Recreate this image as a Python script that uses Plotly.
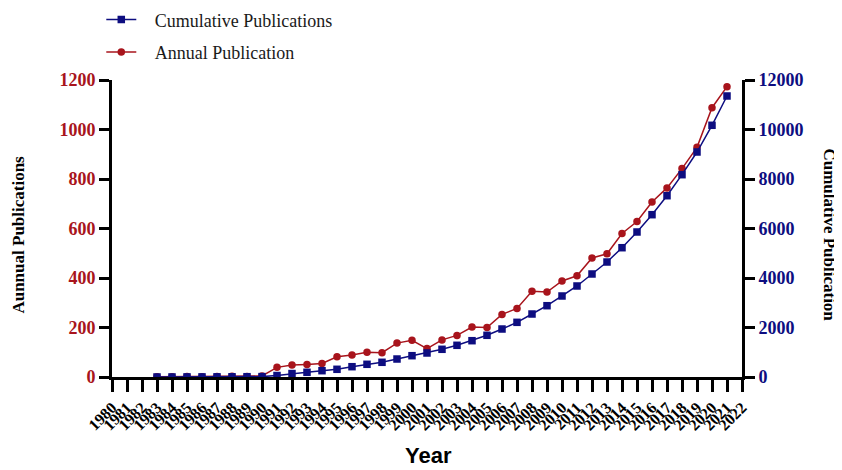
import plotly.graph_objects as go

years = list(range(1983, 2022))
annual = [1, 1, 2, 1, 2, 3, 2, 4,
          39, 48, 51, 55, 82, 89, 100, 98, 137, 148, 115, 150, 168, 202, 200,
          253, 277, 346, 343, 388, 409, 481, 498, 580, 628, 707, 764, 842, 928,
          1088, 1173]
cumulative = [1, 2, 4, 5, 7, 10, 12, 16,
              60, 140, 190, 255, 311, 416, 513, 594, 727, 861, 970, 1119, 1281,
              1467, 1685, 1939, 2209, 2545, 2881, 3273, 3677, 4162, 4646, 5224,
              5859, 6558, 7325, 8174, 9091, 10170, 11354]
tick_years = list(range(1980, 2023))
tick_labels = [str(y) for y in tick_years]
left_ticks = [0, 200, 400, 600, 800, 1000, 1200]
right_ticks = [0, 2000, 4000, 6000, 8000, 10000, 12000]
right_labels = [str(v) for v in right_ticks]

RED = "#A8141C"
BLUE = "#0D0D80"
SERIF = "Liberation Serif"
NB = "\u00a0"

fig = go.Figure()
fig.add_trace(go.Scatter(
    x=years, y=cumulative, name=NB * 3 + "Cumulative Publications", yaxis="y2",
    mode="lines+markers", line=dict(color=BLUE, width=1.5),
    marker=dict(symbol="square", size=7.5, color=BLUE),
    legendgroup="a"))
fig.add_trace(go.Scatter(
    x=years, y=annual, name=NB * 3 + "Annual Publication", yaxis="y",
    mode="lines+markers", line=dict(color=RED, width=1.5),
    marker=dict(symbol="circle", size=7.5, color=RED),
    legendgroup="b"))

fig.update_layout(
    width=834, height=462,
    margin=dict(l=104, r=100, t=72, b=93, autoexpand=False),
    paper_bgcolor="white", plot_bgcolor="white",
    showlegend=True,
    legend=dict(x=-0.017, y=1.265, xanchor="left", yanchor="top",
                font=dict(family=SERIF, size=18, color="#1a1a1a"),
                traceorder="grouped", tracegroupgap=6,
                bgcolor="rgba(0,0,0,0)"),
    xaxis=dict(
        range=[1980, 2022], tickmode="array", tickvals=tick_years,
        ticktext=tick_labels, tickangle=-45,
        tickfont=dict(family=SERIF, size=16, color="black", weight="bold"),
        showline=True, linecolor="black", linewidth=3,
        ticks="outside", ticklen=12, tickwidth=3, tickcolor="black",
        showgrid=False, zeroline=False, automargin=False),
    yaxis=dict(
        range=[0, 1200], tickvals=left_ticks,
        tickfont=dict(family=SERIF, size=18, color=RED, weight="bold"),
        showline=True, linecolor="black", linewidth=3,
        ticks="outside", ticklen=10, tickwidth=3, tickcolor="black",
        showgrid=False, zeroline=False, automargin=False),
    yaxis2=dict(
        range=[0, 12000], tickmode="array", tickvals=right_ticks,
        ticktext=right_labels, overlaying="y", side="right",
        tickfont=dict(family=SERIF, size=18, color=BLUE, weight="bold"),
        showline=True, linecolor="black", linewidth=3,
        ticks="outside", ticklen=10, tickwidth=3, tickcolor="black",
        showgrid=False, zeroline=False, automargin=False),
)

fig.add_annotation(text="Aunnual Publications", xref="paper", yref="paper",
                   x=-0.149, y=0.48, xanchor="center", yanchor="middle",
                   textangle=-90, showarrow=False,
                   font=dict(family=SERIF, size=17, color="black", weight="bold"))
fig.add_annotation(text="Cumulative Publication", xref="paper", yref="paper",
                   x=1.1397, y=0.48, xanchor="center", yanchor="middle",
                   textangle=90, showarrow=False,
                   font=dict(family=SERIF, size=17, color="black", weight="bold"))
fig.add_annotation(text="Year", xref="paper", yref="paper",
                   x=0.5016, y=-0.263, xanchor="center", yanchor="middle",
                   showarrow=False,
                   font=dict(family="Liberation Sans", size=22, color="black", weight="bold"))

fig.write_html("out.html")
